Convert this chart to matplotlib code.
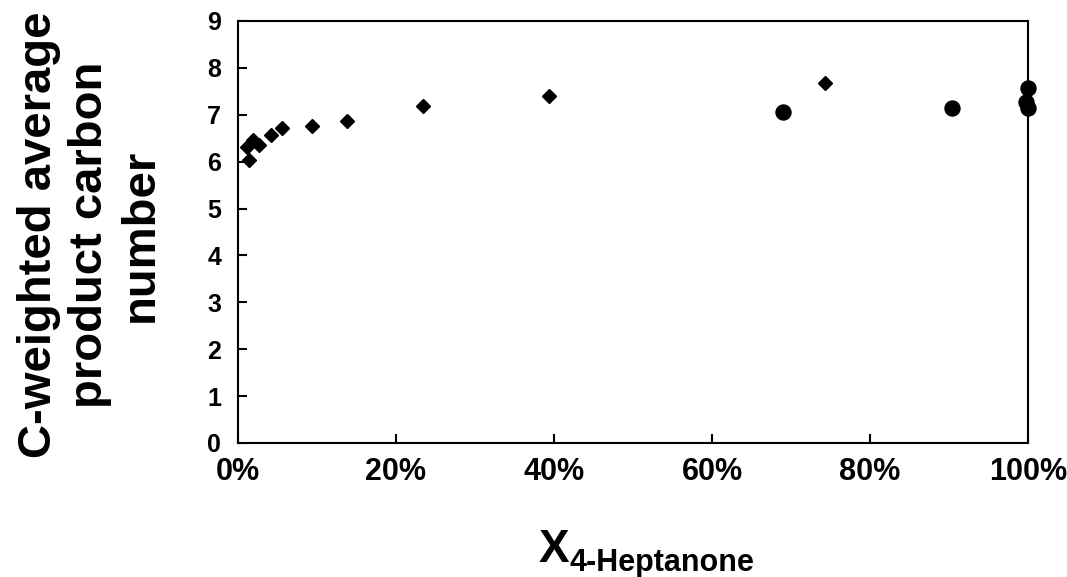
import matplotlib
matplotlib.use("Agg")
import matplotlib.pyplot as plt
from matplotlib.ticker import FuncFormatter

plt.rcParams['font.family'] = ['Liberation Sans', 'DejaVu Sans']
plt.rcParams['font.weight'] = 'bold'

# Series 1 (diamonds)
diamond_x = [1.4, 1.1, 1.9, 2.7, 4.2, 5.6, 9.4, 13.8, 23.4, 39.4, 74.3]
diamond_y = [6.03, 6.31, 6.46, 6.35, 6.57, 6.72, 6.76, 6.87, 7.19, 7.41, 7.68]
# Series 2 (circles)
circle_x = [69.0, 90.4, 100.0, 99.7, 100.0]
circle_y = [7.06, 7.14, 7.57, 7.27, 7.14]

xticks = [0, 20, 40, 60, 80, 100]
yticks = list(range(0, 10))

W, H = 1067, 577
fig = plt.figure(figsize=(W / 100, H / 100), dpi=100)
ax = fig.add_axes([238 / W, 1 - 443 / H, (1028 - 238) / W, (443 - 21) / H])

ax.plot(diamond_x, diamond_y, linestyle='none', marker='D', markersize=7.0,
        color='black', clip_on=False, zorder=5)
ax.plot(circle_x, circle_y, linestyle='none', marker='o', markersize=10.8,
        color='black', clip_on=False, zorder=5)

ax.set_xlim(0, 100)
ax.set_ylim(0, 9)
ax.set_xticks(xticks)
ax.set_yticks(yticks)
ax.xaxis.set_major_formatter(FuncFormatter(lambda v, p: f"{int(round(v))}%"))

for s in ax.spines.values():
    s.set_linewidth(1.5)
    s.set_color('black')

ax.tick_params(axis='both', direction='in', length=6.5, width=1.5, color='black')
ax.tick_params(axis='x', labelsize=22, pad=10)
ax.tick_params(axis='y', labelsize=18, pad=12)
for lab in ax.get_xticklabels() + ax.get_yticklabels():
    lab.set_fontweight('bold')

fig.text(90 / W, 1 - 235 / H, "C-weighted average\nproduct carbon\nnumber",
         rotation=90, ha='center', va='center', fontsize=34, fontweight='bold',
         linespacing=1.2, multialignment='center')

fig.text(539 / W, 1 - 562 / H, "X", ha='left', va='baseline', fontsize=33,
         fontweight='bold')
fig.text(569 / W, 1 - 571 / H, "4-Heptanone", ha='left', va='baseline',
         fontsize=22, fontweight='bold')

fig.savefig("out.png", dpi=100)
